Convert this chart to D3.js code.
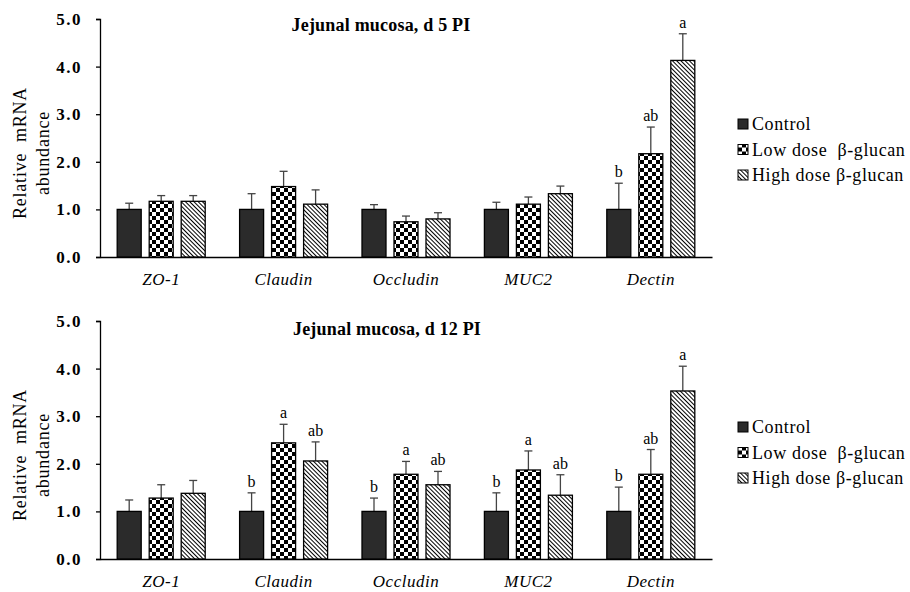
<!DOCTYPE html>
<html>
<head>
<meta charset="utf-8">
<script src="https://cdn.jsdelivr.net/npm/d3@7"></script>
<style>
  body { margin: 0; background: #fff; }
  svg text { font-family: 'Liberation Serif', serif; }
</style>
</head>
<body>
<svg></svg>
<script>
// data
var genes = ["ZO-1", "Claudin", "Occludin", "MUC2", "Dectin"];
var groups = ["Control", "Low dose\u00a0\u00a0β-glucan", "High dose β-glucan"];
var yTicks = [0, 1, 2, 3, 4, 5];

var d5Control = [1.0, 1.0, 1.0, 1.0, 1.0];
var d5Low = [1.17, 1.48, 0.74, 1.11, 2.17];
var d5High = [1.17, 1.11, 0.80, 1.33, 4.13];
var d5ControlErr = [0.13, 0.33, 0.10, 0.15, 0.55];
var d5LowErr = [0.12, 0.32, 0.12, 0.15, 0.56];
var d5HighErr = [0.12, 0.30, 0.13, 0.16, 0.56];
var d5Letters = [["", "", ""], ["", "", ""], ["", "", ""], ["", "", ""], ["b", "ab", "a"]];

var d12Control = [1.0, 1.0, 1.0, 1.0, 1.0];
var d12Low = [1.28, 2.44, 1.78, 1.87, 1.78];
var d12High = [1.38, 2.06, 1.56, 1.34, 3.53];
var d12ControlErr = [0.24, 0.39, 0.28, 0.39, 0.51];
var d12LowErr = [0.28, 0.39, 0.27, 0.40, 0.52];
var d12HighErr = [0.27, 0.40, 0.28, 0.43, 0.52];
var d12Letters = [["", "", ""], ["b", "a", "ab"], ["b", "a", "ab"], ["b", "a", "ab"], ["b", "ab", "a"]];

var width = 910;
var height = 592;
var left = 100;
var right = 712;
var serif = "'Liberation Serif', serif";

var svg = d3.select("svg")
  .attr("width", width)
  .attr("height", height)
  .attr("font-family", serif);

// fills
var defs = svg.append("defs");
var checker = defs.append("pattern")
  .attr("id", "checker")
  .attr("patternUnits", "userSpaceOnUse")
  .attr("width", 8).attr("height", 8);
checker.append("rect").attr("width", 8).attr("height", 8).attr("fill", "#fff");
checker.append("rect").attr("width", 4).attr("height", 4).attr("fill", "#000");
checker.append("rect").attr("x", 4).attr("y", 4).attr("width", 4).attr("height", 4).attr("fill", "#000");

var stripes = defs.append("pattern")
  .attr("id", "stripes")
  .attr("patternUnits", "userSpaceOnUse")
  .attr("width", 3).attr("height", 3)
  .attr("patternTransform", "rotate(-45)");
stripes.append("rect").attr("width", 3).attr("height", 3).attr("fill", "#fff");
stripes.append("line")
  .attr("x1", 0.5).attr("y1", 0).attr("x2", 0.5).attr("y2", 3)
  .attr("stroke", "#000").attr("stroke-width", 1);

var fills = ["#2b2b2b", "url(#checker)", "url(#stripes)"];

var x0 = d3.scaleBand()
  .domain(genes)
  .range([left, right]);

var x1 = d3.scaleBand()
  .domain(d3.range(groups.length))
  .range([x0.bandwidth() / 2 - 48, x0.bandwidth() / 2 + 48])
  .paddingInner(0.25)
  .paddingOuter(0.125);

var panels = [
  { title: "Jejunal mucosa, d 5 PI", top: 19, bottom: 257, titleX: 381, titleY: 31, legendY: 130,
    values: [d5Control, d5Low, d5High], errs: [d5ControlErr, d5LowErr, d5HighErr], letters: d5Letters },
  { title: "Jejunal mucosa, d 12 PI", top: 321, bottom: 559, titleX: 387, titleY: 335, legendY: 433,
    values: [d12Control, d12Low, d12High], errs: [d12ControlErr, d12LowErr, d12HighErr], letters: d12Letters }
];

panels.forEach(function(p) {
  var y = d3.scaleLinear()
    .domain([0, 5])
    .range([p.bottom, p.top]);

  var g = svg.append("g");

  // y axis
  var yAxis = g.append("g")
    .attr("transform", `translate(${left}, 0)`)
    .call(d3.axisLeft(y).tickValues(yTicks).tickFormat(d3.format(".1f")).tickSize(4).tickSizeOuter(4))
    .attr("font-family", serif);
  yAxis.select(".domain").attr("stroke", "#000").attr("stroke-width", 1.3);
  yAxis.selectAll(".tick line").attr("stroke", "#000").attr("stroke-width", 1.3);
  yAxis.selectAll("text")
    .attr("x", -18)
    .attr("fill", "#000")
    .style("font-size", "17px")
    .style("font-weight", "bold")
    .style("letter-spacing", "1.5px");

  // x axis
  var xAxis = g.append("g")
    .attr("transform", `translate(0, ${p.bottom})`)
    .call(d3.axisBottom(x0).tickSize(0).tickSizeOuter(0))
    .attr("font-family", serif);
  xAxis.select(".domain").attr("stroke", "#000").attr("stroke-width", 1.3);
  xAxis.selectAll("text")
    .attr("y", 16)
    .attr("fill", "#000")
    .style("font-size", "17px")
    .style("font-style", "italic")
    .style("letter-spacing", "0.5px");

  // y title
  var yt = g.append("text")
    .attr("transform", `translate(26, ${(p.top + p.bottom) / 2 + 15}) rotate(-90)`)
    .style("text-anchor", "middle")
    .style("font-size", "18px")
    .style("letter-spacing", "0.8px");
  yt.append("tspan").attr("x", 0).attr("dy", 0).text("Relative\u00a0\u00a0mRNA");
  yt.append("tspan").attr("x", 0).attr("dy", "1.25em").text("abundance");

  // panel title
  g.append("text")
    .attr("x", p.titleX)
    .attr("y", p.titleY)
    .style("text-anchor", "middle")
    .style("font-size", "18px")
    .style("font-weight", "bold")
    .style("letter-spacing", "0.2px")
    .text(p.title);

  // bars
  var rows = [];
  genes.forEach(function(gene, gi) {
    groups.forEach(function(grp, si) {
      rows.push({ gene: gene, s: si, v: p.values[si][gi], e: p.errs[si][gi], l: p.letters[gi][si] });
    });
  });

  var bar = g.selectAll(".bar")
    .data(rows)
    .enter()
    .append("g")
    .attr("class", "bar");

  // error bars (upper only)
  bar.append("line")
    .attr("x1", d => x0(d.gene) + x1(d.s) + x1.bandwidth() / 2)
    .attr("x2", d => x0(d.gene) + x1(d.s) + x1.bandwidth() / 2)
    .attr("y1", d => y(d.v))
    .attr("y2", d => y(d.v + d.e))
    .attr("stroke", "#444")
    .attr("stroke-width", 1.3);
  bar.append("line")
    .attr("x1", d => x0(d.gene) + x1(d.s) + x1.bandwidth() / 2 - 4)
    .attr("x2", d => x0(d.gene) + x1(d.s) + x1.bandwidth() / 2 + 4)
    .attr("y1", d => y(d.v + d.e))
    .attr("y2", d => y(d.v + d.e))
    .attr("stroke", "#444")
    .attr("stroke-width", 1.3);

  bar.append("rect")
    .attr("x", d => x0(d.gene) + x1(d.s))
    .attr("y", d => y(d.v))
    .attr("width", x1.bandwidth())
    .attr("height", d => p.bottom - y(d.v))
    .attr("fill", d => fills[d.s])
    .attr("stroke", "#000")
    .attr("stroke-width", 1.3);

  bar.filter(d => d.l !== "")
    .append("text")
    .attr("x", d => x0(d.gene) + x1(d.s) + x1.bandwidth() / 2)
    .attr("y", d => y(d.v + d.e) - 6)
    .style("text-anchor", "middle")
    .style("font-size", "16px")
    .text(d => d.l);

  // legend
  var legend = g.selectAll(".legend")
    .data(groups)
    .enter()
    .append("g")
    .attr("class", "legend")
    .attr("transform", (d, i) => `translate(738, ${p.legendY + i * 25.5})`);
  legend.append("rect")
    .attr("x", 0)
    .attr("y", -11)
    .attr("width", 10)
    .attr("height", 10)
    .attr("fill", (d, i) => fills[i])
    .attr("stroke", "#000")
    .attr("stroke-width", 1);
  legend.append("text")
    .attr("x", 14)
    .attr("y", 0)
    .style("font-size", "18px")
    .style("letter-spacing", "0.6px")
    .text(d => d);
});
</script>
</body>
</html>
